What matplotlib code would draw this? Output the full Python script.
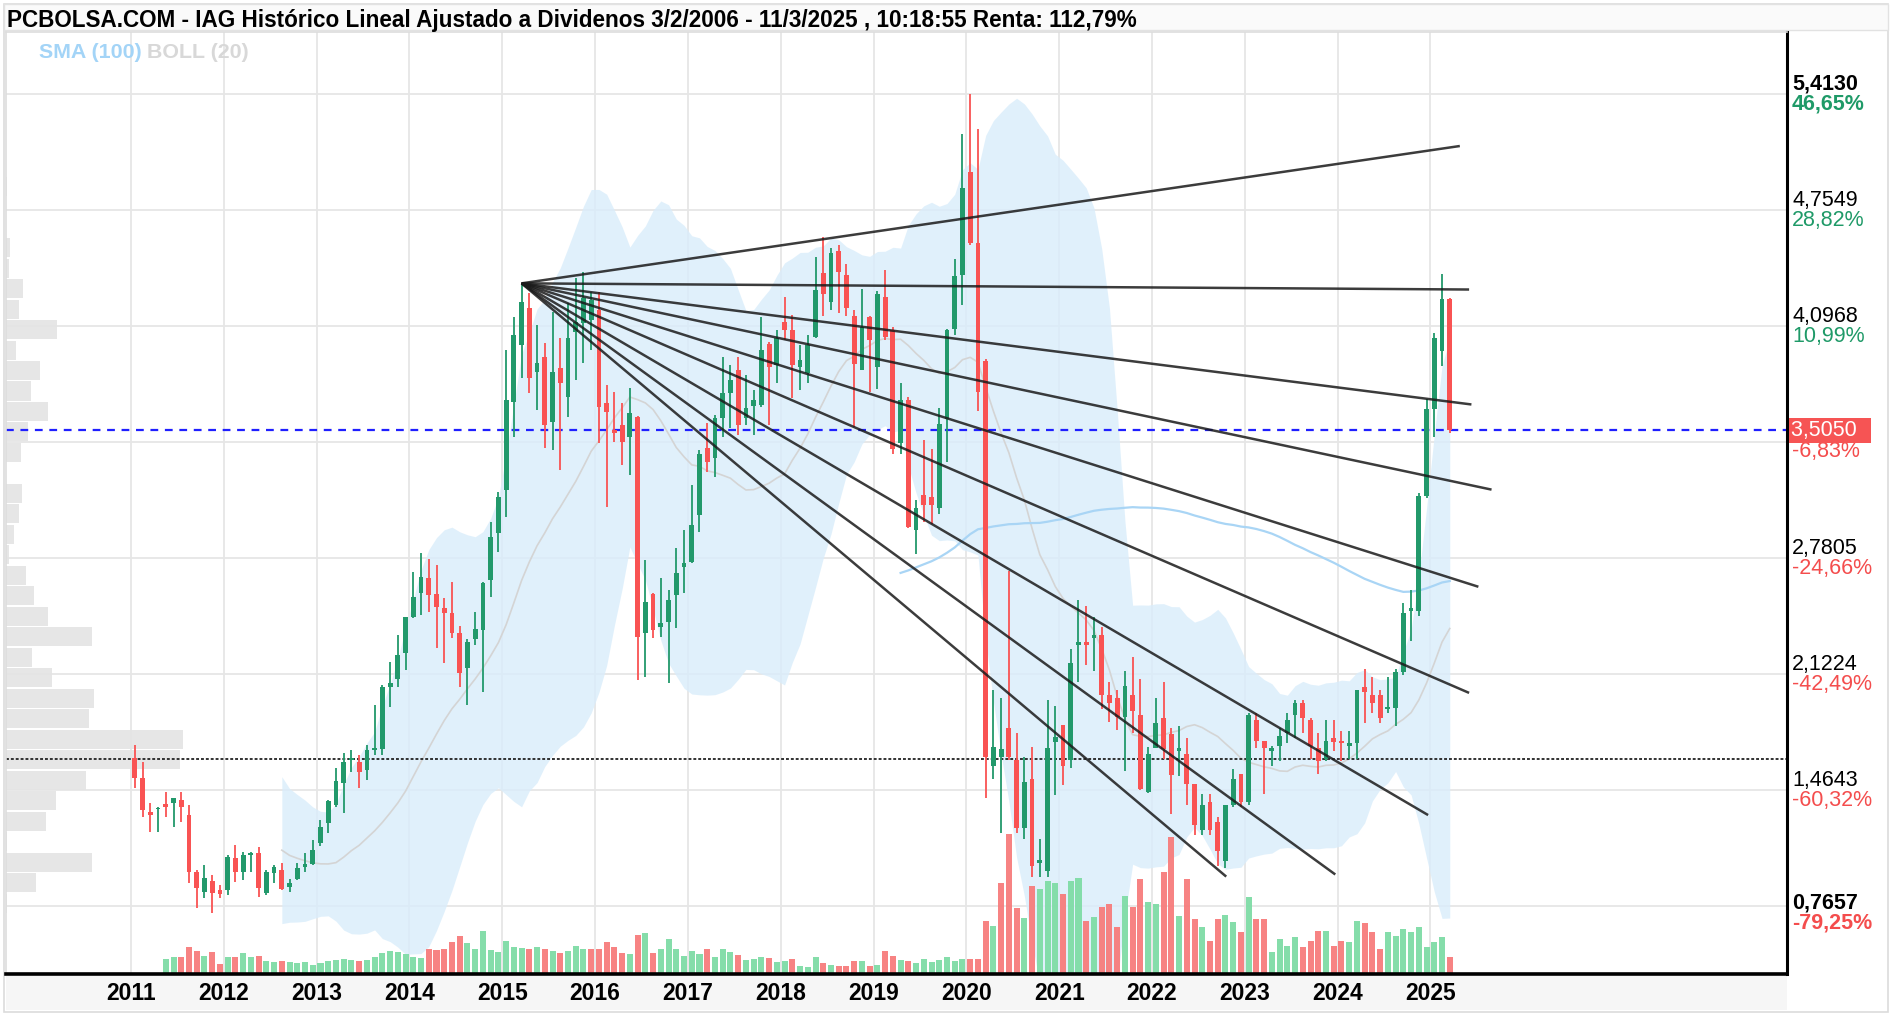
import numpy as np
import pandas as pd
import matplotlib
matplotlib.use("Agg")
import matplotlib.pyplot as plt
from matplotlib import font_manager
from matplotlib.patches import Rectangle

# IAG monthly candles, Jan 2011 .. Mar 2025 (dividend adjusted)
opens = [1.645, 1.531, 1.342, 1.355, 1.385, 1.393, 1.408, 1.323, 1.001, 0.888,
         0.950, 0.898, 0.898, 1.077, 1.001, 1.096, 1.109, 0.879, 0.992, 1.011,
         0.916, 0.958, 1.030, 1.045, 1.162, 1.276, 1.380, 1.503, 1.635, 1.626,
         1.578, 1.692, 1.696, 2.047, 2.093, 2.240, 2.448, 2.580, 2.666, 2.577,
         2.495, 2.471, 2.357, 2.155, 2.320, 2.373, 2.656, 2.921, 3.167, 3.668,
         3.989, 4.197, 3.838, 3.923, 3.554, 3.857, 3.696, 4.065, 4.112, 4.131,
         4.188, 3.658, 3.507, 3.535, 3.469, 3.583, 2.354, 2.577, 2.388, 2.420,
         2.571, 2.732, 2.760, 3.025, 3.403, 3.346, 3.573, 3.715, 3.848, 3.573,
         3.643, 3.649, 3.995, 3.876, 4.122, 4.074, 3.866, 3.829, 4.037, 4.400,
         4.232, 4.524, 4.386, 4.155, 3.848, 4.146, 3.863, 4.263, 4.072, 3.433,
         3.679, 2.941, 3.141, 3.125, 3.064, 3.571, 4.078, 4.386, 4.970, 4.570,
         3.900, 1.604, 1.650, 1.819, 1.634, 1.250, 1.527, 1.050, 1.004, 1.736,
         1.834, 1.634, 2.289, 2.302, 2.326, 2.342, 2.003, 1.988, 1.880, 2.003,
         1.889, 1.455, 1.701, 1.874, 1.780, 1.686, 1.672, 1.498, 1.238, 1.397,
         1.281, 1.064, 1.382, 1.556, 1.397, 1.860, 1.744, 1.686, 1.715, 1.788,
         1.889, 1.961, 1.860, 1.701, 1.643, 1.759, 1.744, 1.715, 1.730, 2.048,
         2.005, 2.005, 1.927, 1.932, 2.135, 2.482, 2.482, 3.134, 3.626, 3.958,
         4.248]
highs = [1.720, 1.626, 1.389, 1.370, 1.455, 1.418, 1.455, 1.380, 1.011, 1.039,
         0.983, 0.926, 1.096, 1.153, 1.115, 1.115, 1.143, 1.011, 1.039, 1.049,
         0.958, 1.053, 1.106, 1.181, 1.295, 1.408, 1.588, 1.673, 1.692, 1.663,
         1.720, 1.947, 2.061, 2.193, 2.344, 2.448, 2.703, 2.807, 2.773, 2.741,
         2.552, 2.647, 2.395, 2.320, 2.477, 2.647, 2.987, 3.157, 3.961, 4.150,
         4.339, 4.282, 4.103, 3.999, 4.178, 4.027, 4.226, 4.367, 4.405, 4.292,
         4.292, 3.762, 3.725, 3.658, 3.743, 3.587, 2.770, 2.581, 2.666, 2.600,
         2.836, 2.940, 3.195, 3.394, 3.545, 3.592, 3.923, 3.876, 3.923, 3.819,
         3.734, 4.150, 4.008, 4.074, 4.264, 4.160, 3.989, 4.046, 4.490, 4.601,
         4.539, 4.555, 4.447, 4.186, 4.309, 4.155, 4.294, 4.416, 4.094, 3.771,
         3.694, 3.110, 3.448, 3.402, 3.633, 4.078, 4.478, 5.185, 5.413, 5.216,
         3.909, 2.034, 1.988, 2.710, 1.788, 1.650, 1.711, 1.189, 1.973, 1.942,
         1.834, 2.265, 2.541, 2.511, 2.449, 2.388, 2.080, 2.034, 2.142, 2.219,
         2.096, 1.711, 1.988, 2.080, 1.819, 1.831, 1.759, 1.500, 1.440, 1.440,
         1.310, 1.382, 1.585, 1.556, 1.903, 1.903, 1.744, 1.715, 1.817, 1.903,
         1.976, 1.976, 1.874, 1.788, 1.860, 1.860, 1.802, 1.802, 2.034, 2.149,
         2.106, 2.034, 2.106, 2.149, 2.526, 2.598, 3.148, 3.683, 4.060, 4.392,
         4.255]
lows = [1.474, 1.313, 1.229, 1.229, 1.313, 1.257, 1.285, 0.935, 0.794, 0.850,
        0.7657, 0.850, 0.869, 0.945, 0.954, 1.001, 0.860, 0.869, 0.935, 0.898,
        0.888, 0.954, 1.001, 1.039, 1.150, 1.219, 1.370, 1.332, 1.569, 1.474,
        1.522, 1.663, 1.663, 1.938, 2.051, 2.146, 2.439, 2.458, 2.476, 2.268,
        2.183, 2.325, 2.051, 1.947, 2.287, 2.020, 2.562, 2.817, 3.016, 3.469,
        3.800, 3.715, 3.621, 3.403, 3.394, 3.280, 3.583, 3.791, 3.885, 3.961,
        3.432, 3.072, 3.441, 3.309, 3.252, 2.089, 2.108, 2.326, 2.335, 2.070,
        2.382, 2.581, 2.751, 2.930, 3.271, 3.243, 3.469, 3.517, 3.479, 3.535,
        3.479, 3.640, 3.535, 3.772, 4.018, 3.687, 3.734, 3.772, 4.027, 4.155,
        4.186, 4.171, 4.155, 3.525, 3.848, 3.725, 3.740, 4.020, 3.371, 3.371,
        2.950, 2.803, 2.987, 2.972, 3.033, 3.325, 4.048, 4.217, 4.555, 3.617,
        1.419, 1.527, 1.219, 1.634, 1.219, 1.189, 0.974, 0.974, 0.974, 1.435,
        1.496, 1.588, 2.080, 2.172, 2.142, 1.926, 1.850, 1.804, 1.573, 1.788,
        1.465, 1.450, 1.701, 1.643, 1.327, 1.542, 1.382, 1.209, 1.209, 1.209,
        1.035, 1.021, 1.368, 1.368, 1.382, 1.701, 1.440, 1.600, 1.629, 1.730,
        1.759, 1.788, 1.643, 1.556, 1.629, 1.686, 1.629, 1.643, 1.643, 1.846,
        1.903, 1.846, 1.903, 1.831, 2.120, 2.309, 2.453, 3.119, 3.466, 3.872,
        3.490]
closes = [1.531, 1.351, 1.323, 1.361, 1.370, 1.418, 1.370, 1.001, 0.907, 0.964,
          0.879, 0.875, 1.087, 1.001, 1.096, 1.106, 0.907, 1.001, 1.030, 0.901,
          0.939, 1.020, 1.045, 1.124, 1.257, 1.404, 1.518, 1.626, 1.645, 1.569,
          1.692, 1.701, 2.047, 2.074, 2.231, 2.448, 2.562, 2.675, 2.571, 2.505,
          2.471, 2.354, 2.127, 2.306, 2.376, 2.637, 2.902, 3.129, 3.677, 4.046,
          4.235, 3.800, 3.885, 3.535, 3.838, 3.772, 4.027, 4.122, 4.254, 4.245,
          3.640, 3.611, 3.488, 3.441, 3.602, 2.335, 2.534, 2.373, 2.414, 2.543,
          2.694, 2.751, 2.968, 3.371, 3.328, 3.573, 3.719, 3.791, 3.535, 3.630,
          3.677, 3.961, 3.866, 4.027, 4.074, 3.876, 3.904, 3.989, 4.301, 4.278,
          4.509, 4.401, 4.201, 3.879, 4.094, 4.017, 4.278, 4.032, 3.402, 3.679,
          2.956, 3.064, 3.079, 3.079, 3.540, 4.072, 4.380, 4.878, 4.570, 3.725,
          1.650, 1.711, 1.700, 1.650, 1.250, 1.511, 1.035, 1.066, 1.705, 1.767,
          1.604, 2.188, 2.302, 2.289, 2.342, 2.003, 1.957, 1.880, 2.056, 1.911,
          1.469, 1.672, 1.846, 1.700, 1.550, 1.701, 1.498, 1.267, 1.382, 1.238,
          1.122, 1.382, 1.527, 1.397, 1.889, 1.744, 1.701, 1.701, 1.773, 1.860,
          1.961, 1.874, 1.715, 1.629, 1.744, 1.736, 1.730, 1.730, 2.034, 2.019,
          1.961, 1.874, 1.938, 2.135, 2.468, 2.497, 3.134, 3.626, 4.031, 4.248,
          3.505]
# monthly volume (relative units), no data for the first four months
volume = [0, 0, 0, 0, 15, 16.7, 16.7, 26.7, 23.3, 18.3,
          21.7, 10, 16.7, 17.3, 20.7, 17.3, 18.3, 12.7, 11.7, 13.3,
          11.7, 10.7, 11.7, 9.3, 10.7, 12.7, 14, 15, 14, 13.3,
          14, 16.7, 20.7, 22.7, 21.7, 20, 17.3, 16, 25, 24,
          25, 31.7, 38.3, 30.7, 25, 42.7, 24, 21.7, 32.7, 26.7,
          26, 25, 26.7, 25, 23.3, 20.7, 23.3, 28.3, 25, 25,
          25, 31.7, 26.7, 20.7, 20, 39.3, 41.3, 20.7, 25, 35,
          25, 18.3, 22.7, 20, 25, 16.7, 25, 21.7, 19.3, 14,
          15, 16.7, 16, 11.7, 13.3, 15, 8.3, 6.7, 16.7, 10.7,
          9.3, 8.3, 8.3, 13.3, 12.7, 8.3, 9.3, 23.3, 18.3, 14,
          13.3, 10.7, 15, 11.7, 14, 17.3, 13.3, 15, 15, 15,
          53, 48, 91, 140, 66, 56, 88, 85, 93, 91,
          80, 93, 96, 53, 57, 67, 70, 47, 78, 67,
          95, 72, 70, 102, 137, 58, 95, 55, 47, 33,
          55, 59, 52, 42, 77, 55, 55, 22, 35, 28,
          37, 27, 33, 43, 43, 28, 33, 32, 53, 51,
          42, 25, 42, 38, 45, 42, 47, 27, 32, 37,
          17]
# volume-by-price profile, 40 bins from the low 0.7657 to the high 5.4130
profile = [1.3, 29.7, 85.7, 1, 40, 50, 80, 174, 177, 83,
           88, 46, 26, 86, 42, 28, 20, 3, 8, 13,
           16, 0, 14.7, 21.7, 41.7, 25, 34, 10, 50.7, 13.3,
           16.7, 3.3, 4, 0, 0, 1.3, 0, 0, 0, 0]

# fan lines drawn from the Apr 2015 high: (month index, price) of each end
fan_origin = (50, 4.339)
fan_ends = [(171.3, 5.118), (172.5, 4.304), (172.8, 3.652), (175.4, 3.169),
            (173.7, 2.618), (172.5, 2.016), (167.2, 1.323), (155.2, 0.986),
            (141.1, 0.974)]

years = list(range(2011, 2026))
grid_levels = [5.4130, 4.7549, 4.0968, 3.4387, 2.7805, 2.1224, 1.4643, 0.8062]
right_labels = [(5.4130, "5,4130", "46,65%", True), (4.7549, "4,7549", "28,82%", False),
                (4.0968, "4,0968", "10,99%", False), (2.7805, "2,7805", "-24,66%", False),
                (2.1224, "2,1224", "-42,49%", False), (1.4643, "1,4643", "-60,32%", False),
                (0.7657, "0,7657", "-79,25%", True)]
last_price = 3.5050
last_pct = "-6,83%"
ref_level = 1.641

GREEN = "#22996b"
RED = "#f95353"
VGREEN = "#7fdca6"
VRED = "#f77c7c"
PCT_GREEN = "#1f9a68"
PCT_RED = "#f44d4d"

names = {f.name for f in font_manager.fontManager.ttflist}
NARROW = "Liberation Sans Narrow" if "Liberation Sans Narrow" in names else "Liberation Sans"
SANS = "Liberation Sans"

W, H = 1892, 1016
fig = plt.figure(figsize=(W / 100, H / 100), dpi=100)
fig.patch.set_facecolor("white")

# frame pieces first, behind the axes: outer border, title bar, x label strip
fig.patches.append(Rectangle((4 / W, 4 / H), 1884 / W, 1008 / H, transform=fig.transFigure,
                             fill=False, ec="#dcdcdc", lw=1.2, zorder=-2))
fig.patches.append(Rectangle((4 / W, 1 - 30 / H), 1884 / W, 26 / H, transform=fig.transFigure,
                             fc="#fafafa", ec="#e2e2e2", lw=1.0, zorder=-2))

L, R, B, T = 6, 1787, 974, 32
fig.patches.append(Rectangle((L / W, 6 / H), (R - L) / W, 34 / H, transform=fig.transFigure,
                             fc="#f6f6f6", ec="none", zorder=-2))
ax = fig.add_axes([L / W, 1 - B / H, (R - L) / W, (B - T) / H])

x = np.arange(len(closes))
o = np.array(opens)
h = np.array(highs)
lo = np.array(lows)
c = np.array(closes)
up = c >= o

# gridlines and year ticks
ax.set_xlim(-16.66, 213.6)
ax.set_ylim(0.4215, 5.7647)
ax.set_yticks(grid_levels)
ax.set_yticklabels([])
year_pos = [12 * (y - 2011) - 0.5 for y in years]
ax.set_xticks(year_pos)
ax.set_xticklabels([str(y) for y in years], fontsize=16.5, fontweight="bold", family=SANS)
ax.tick_params(length=0, pad=6)
ax.grid(True, color="#e6e6e6", lw=1.3, zorder=0)
ax.set_axisbelow(True)

# volume profile on the left
edges = np.linspace(0.7657, 5.4130, len(profile) + 1)
ax.barh((edges[:-1] + edges[1:]) / 2, np.array(profile) / (R - L), height=(edges[1] - edges[0]) * 0.93,
        left=0, transform=ax.get_yaxis_transform(), color="#e4e4e4", alpha=0.9, zorder=0.8)

# bollinger (20) and sma(100)
s = pd.Series(c)
mid = s.rolling(20).mean()
sd = s.rolling(20).std(ddof=0)
ax.fill_between(x, mid - 2 * sd, mid + 2 * sd, color="#d9edfb", alpha=0.8, lw=0, zorder=1)
ax.plot(x, mid, color="#d4d4d4", lw=1.2, zorder=1.2)
ax.plot(x, s.rolling(100).mean(), color="#a9d5f5", lw=1.6, zorder=1.3)

# volume bars along the bottom
vol = np.array(volume)
vcol = [VGREEN if i > 0 and c[i] >= c[i - 1] else VRED for i in range(len(c))]
ax.bar(x, vol / (B - T), width=0.78, bottom=0, color=vcol, alpha=0.95,
       transform=ax.get_xaxis_transform(), zorder=1.5)

# candles
cols = np.where(up, GREEN, RED)
ax.vlines(x, lo, h, colors=cols, lw=1.3, zorder=3)
body = np.maximum(np.abs(c - o), 0.008)
ax.bar(x, body, bottom=np.minimum(o, c), width=0.62, color=cols, zorder=3.1)

# reference lines
ax.axhline(last_price, color="#1f1fff", lw=1.6, ls=(0, (3.5, 3)), zorder=2.5)
ax.axhline(ref_level, color="#222222", lw=1.3, ls=(0, (1.6, 1.1)), zorder=2.5)

# fan lines
for xe, ye in fan_ends:
    ax.plot([fan_origin[0], xe], [fan_origin[1], ye], color="#1a1a1a", lw=1.8, alpha=0.85,
            solid_capstyle="butt", zorder=4)

# spines
for sp in ["top", "left"]:
    ax.spines[sp].set_color("#dddddd")
    ax.spines[sp].set_linewidth(1.2)
ax.spines["right"].set_color("black")
ax.spines["right"].set_linewidth(2.2)
ax.spines["bottom"].set_color("black")
ax.spines["bottom"].set_linewidth(2.6)

# right axis labels
ytr = ax.get_yaxis_transform()
for val, txt, pct, bold in right_labels:
    ax.annotate(txt, xy=(1, val), xycoords=ytr, xytext=(5, 10), textcoords="offset pixels",
                ha="left", va="center", fontsize=15.5, family=SANS,
                fontweight="bold" if bold else "normal", color="black", annotation_clip=False)
    ax.annotate(pct, xy=(1, val), xycoords=ytr, xytext=(5, -10), textcoords="offset pixels",
                ha="left", va="center", fontsize=15.5, family=SANS,
                fontweight="bold" if bold else "normal",
                color=PCT_GREEN if not pct.startswith("-") else PCT_RED, annotation_clip=False)
ax.annotate(last_pct, xy=(1, last_price), xycoords=ytr, xytext=(5, -21), textcoords="offset pixels",
            ha="left", va="center", fontsize=15.5, family=SANS, color=PCT_RED, annotation_clip=False)
ax.annotate("3,5050  ", xy=(1, last_price), xycoords=ytr, xytext=(4, 0), textcoords="offset pixels",
            ha="left", va="center", fontsize=15.5, family=SANS, color="white", annotation_clip=False,
            bbox=dict(boxstyle="square,pad=0.1", fc="#f65454", ec="none"))

title = fig.text(7 / W, 1 - 20 / H, "PCBOLSA.COM - IAG Histórico Lineal Ajustado a Dividenos "
                 "3/2/2006 - 11/3/2025 , 10:18:55 Renta: 112,79%",
                 ha="left", va="center", fontsize=16, fontweight="bold", family=NARROW)
sma_t = fig.text(39 / W, 1 - 52 / H, "SMA (100)", ha="left", va="center", fontsize=15,
                 fontweight="bold", family=NARROW, color="#a3d4f7")
fig.canvas.draw()
r = fig.canvas.get_renderer()
tw = title.get_window_extent(r).width
title.set_fontsize(16 * 1131 / tw)
sw = sma_t.get_window_extent(r).width
sma_t.set_fontsize(15 * 103 / sw)
fig.text(147 / W, 1 - 52 / H, "BOLL (20)", ha="left", va="center", fontsize=15 * 103 / sw,
         fontweight="bold", family=NARROW, color="#d8d8d8")

fig.savefig("out.png", dpi=100, facecolor="white")
